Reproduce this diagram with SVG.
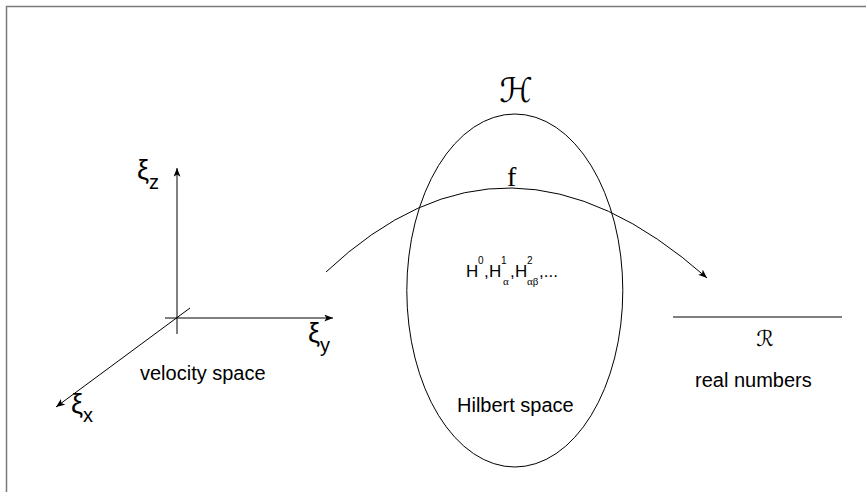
<svg xmlns="http://www.w3.org/2000/svg" width="866" height="492" viewBox="0 0 866 492">
<defs>
<marker id="ah" viewBox="0 0 10 8" refX="10" refY="4" markerWidth="9" markerHeight="7" markerUnits="userSpaceOnUse" orient="auto">
<path d="M0,0 L10,4 L0,8 L2.5,4 Z" fill="#000"/>
</marker>
<style>
.ln{fill:none;stroke:#000;stroke-width:1}
.t{font-family:"Liberation Sans",Arial,sans-serif;fill:#000}
.s{font-family:"Liberation Serif","Times New Roman",serif;fill:#000}
.g{font-family:"DejaVu Sans",sans-serif;fill:#000}
</style>
</defs>
<rect x="0" y="0" width="866" height="492" fill="#fff"/>
<path d="M6.5,492 L6.5,6.5 L866,6.5" fill="none" stroke="#7a7a7a" stroke-width="1.5"/>

<g id="velocity-space">
<line class="ln" x1="177" y1="334" x2="177" y2="168" marker-end="url(#ah)"/>
<line class="ln" x1="165" y1="318" x2="333" y2="318" marker-end="url(#ah)"/>
<line class="ln" x1="190" y1="308" x2="56" y2="407" marker-end="url(#ah)"/>
<text class="t" x="137" y="179" font-size="27">ξ<tspan font-size="20" dy="10">z</tspan></text>
<text class="t" x="308" y="342" font-size="27">ξ<tspan font-size="20" dy="10">y</tspan></text>
<text class="t" x="71" y="413" font-size="27">ξ<tspan font-size="20" dy="9">x</tspan></text>
<text class="t" x="140" y="380" font-size="20">velocity space</text>
</g>

<g id="hilbert-space">
<ellipse class="ln" cx="514.8" cy="290.5" rx="108" ry="176.5"/>
<text class="g" x="516" y="102" font-size="34" text-anchor="middle">ℋ</text>
<text class="t" x="466" y="277" font-size="17">H</text>
<text class="t" x="478" y="264" font-size="10">0</text>
<text class="t" x="484" y="277" font-size="17">,</text>
<text class="t" x="489" y="277" font-size="17">H</text>
<text class="t" x="501" y="264" font-size="10">1</text>
<text class="s" x="503" y="285" font-size="11">α</text>
<text class="t" x="510" y="277" font-size="17">,</text>
<text class="t" x="515" y="277" font-size="17">H</text>
<text class="t" x="527" y="264" font-size="10">2</text>
<text class="s" x="527" y="285" font-size="11">αβ</text>
<text class="t" x="539" y="277" font-size="17">,...</text>
<text class="t" x="457" y="412" font-size="20">Hilbert space</text>
</g>

<g id="real-numbers">
<line class="ln" x1="673" y1="317" x2="842" y2="317"/>
<text class="g" x="765" y="346" font-size="22" text-anchor="middle">ℛ</text>
<text class="t" x="695" y="387" font-size="20">real numbers</text>
</g>

<g id="connectors">
<path class="ln" d="M326,272 Q507.5,101 707,278" marker-end="url(#ah)"/>
<text class="s" x="507" y="186" font-size="28">f</text>
</g>
</svg>
